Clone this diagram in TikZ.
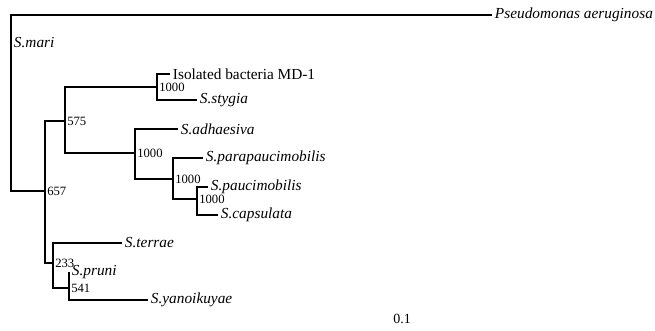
\documentclass[tikz,border=0pt]{standalone}
\usepackage{fontspec}
\setmainfont{Liberation Serif}
\usepackage{tikz}
\usetikzlibrary{positioning}
\tikzset{
  leaf/.style={anchor=west, inner sep=2pt, font=\fontsize{11.5}{13}\selectfont\itshape},
  branch/.style={line width=0.8pt, black},
}
\begin{document}
\begin{tikzpicture}[x=0.75pt, y=-0.75pt,
  boot/.style={anchor=west, inner sep=1.5pt, font=\fontsize{9.5}{10}\selectfont},
]
  \useasboundingbox (0,0) rectangle (655,330);
  % internal nodes
  \coordinate (root) at (11,100);
  \coordinate (n657) at (45,191);
  \coordinate (n575) at (65,121);
  \coordinate (nmd) at (157,87);
  \coordinate (nadh) at (135,153);
  \coordinate (npara) at (173,179);
  \coordinate (npauc) at (197,199);
  \coordinate (n233) at (53,263);
  \coordinate (n541) at (69,288);
  % leaves
  \node[leaf] (pse) at (492,15) {Pseudomonas aeruginosa};
  \node[leaf] (mari) at (11,43) {S.mari};
  \node[leaf, font=\fontsize{11.5}{13}\selectfont] (md) at (170,74) {Isolated bacteria MD-1};
  \node[leaf] (sty) at (197,100) {S.stygia};
  \node[leaf] (adh) at (178,129) {S.adhaesiva};
  \node[leaf] (para) at (203,158) {S.parapaucimobilis};
  \node[leaf] (pauc) at (208,187) {S.paucimobilis};
  \node[leaf] (caps) at (218,215) {S.capsulata};
  \node[leaf] (ter) at (122,243) {S.terrae};
  \node[leaf] (pru) at (69,272) {S.pruni};
  \node[leaf] (yan) at (148,300) {S.yanoikuyae};
  % branches
  \draw[branch] (root) |- (pse.west) (root) |- (n657);
  \draw[branch] (n657) |- (n575) (n657) |- (n233);
  \draw[branch] (n575) |- (nmd) (n575) |- (nadh);
  \draw[branch] (nmd) |- (md.west) (nmd) |- (sty.west);
  \draw[branch] (nadh) |- (adh.west) (nadh) |- (npara);
  \draw[branch] (npara) |- (para.west) (npara) |- (npauc);
  \draw[branch] (npauc) |- (pauc.west) (npauc) |- (caps.west);
  \draw[branch] (n233) |- (ter.west) (n233) |- (n541);
  \draw[branch] (n541) |- (pru.west) (n541) |- (yan.west);
  % bootstrap values
  \node[boot] (b657) at (n657) {657};
  \node[boot] (b575) at (n575) {575};
  \node[boot] (bmd) at (nmd) {1000};
  \node[boot] (badh) at (nadh) {1000};
  \node[boot] (bpara) at (npara) {1000};
  \node[boot] (bpauc) at (npauc) {1000};
  \node[boot] (b233) at (n233) {233};
  \node[boot] (b541) at (n541) {541};
  \node[font=\fontsize{10.5}{12}\selectfont] (scale) at (402,319) {0.1};
\end{tikzpicture}
\end{document}
